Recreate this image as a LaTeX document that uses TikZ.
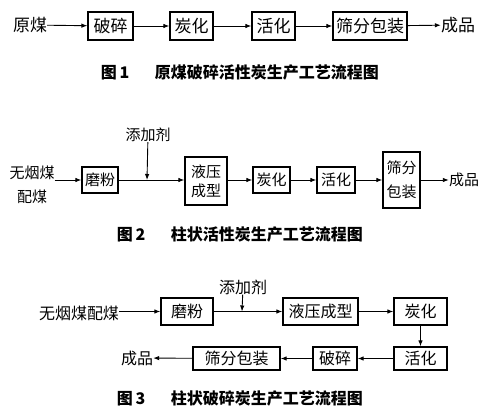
\documentclass[tikz,border=0pt]{standalone}
\usepackage{fontspec}
\usepackage{tikz}
\usetikzlibrary{arrows.meta,positioning}
\newfontfamily\cjk{Noto Sans CJK SC}

\begin{document}
\begin{tikzpicture}[x=1pt, y=-1pt,
  every node/.style={font=\cjk, inner sep=0pt, align=center},
  box/.style={draw, line width=1.3pt, minimum height=#1},
  box/.default=28pt,
  flow/.style={-{Latex[length=6pt,width=4.5pt]}, line width=0.9pt},
  caption/.style={font=\cjk\bfseries\fontsize{16}{19}\selectfont}]
  \useasboundingbox (0,0) rectangle (488,416);
  % diagram 1
  \begin{scope}[every node/.append style={font=\cjk\fontsize{17}{20}\selectfont}]
    \node (raw1) at (30,25) {原煤};
    \node[box, minimum width=45pt] (crush1) at (110.5,26) {破碎};
    \node[box, minimum width=43pt] (carb1) at (191.5,26) {炭化};
    \node[box, minimum width=43pt] (act1) at (273.5,26) {活化};
    \node[box, minimum width=74pt] (sieve1) at (370,26) {筛分包装};
    \node (prod1) at (458,25) {成品};
  \end{scope}
  \draw[flow] (raw1) -- (crush1);
  \draw[flow] (crush1) -- (carb1);
  \draw[flow] (carb1) -- (act1);
  \draw[flow] (act1) -- (sieve1);
  \draw[flow] (sieve1) -- (prod1);
  \node[caption] (cap1) at (240,72) {图\,1\hspace{1.6em}原煤破碎活性炭生产工艺流程图};
  % diagram 2
  \begin{scope}[every node/.append style={font=\cjk\fontsize{15}{24}\selectfont}]
    \node (raw2) at (32,185) {无烟煤\\配煤};
    \node[box=26pt, minimum width=36pt] (mill2) at (100,180) {磨粉};
    \node (add2) at (148,135) {添加剂};
    \node[box=48pt, minimum width=42pt, font=\cjk\fontsize{15}{19}\selectfont] (press2) at (206,181) {液压\\成型};
    \node[box=26pt, minimum width=37pt] (carb2) at (271.5,180) {炭化};
    \node[box=26pt, minimum width=38pt] (act2) at (336,180) {活化};
    \node[box=56pt, minimum width=37pt, font=\cjk\fontsize{15}{24}\selectfont] (sieve2) at (401.5,180) {筛分\\包装};
    \node (prod2) at (464,180) {成品};
  \end{scope}
  \coordinate (join2) at (147,180);
  \draw[flow] (raw2.east |- mill2) -- (mill2);
  \draw[flow] (mill2) -- (press2.west |- mill2);
  \draw[flow] (add2) -- (join2);
  \draw[flow] (press2.east |- carb2) -- (carb2);
  \draw[flow] (carb2) -- (act2);
  \draw[flow] (act2) -- (sieve2.west |- act2);
  \draw[flow] (sieve2.east |- prod2) -- (prod2);
  \node[caption] (cap2) at (240,234) {图\,2\hspace{1.6em}柱状活性炭生产工艺流程图};
  % diagram 3
  \begin{scope}[every node/.append style={font=\cjk\fontsize{16}{20}\selectfont}]
    \node (raw3) at (79,313) {无烟煤配煤};
    \node[box=27pt, minimum width=52pt] (mill3) at (187,311.5) {磨粉};
    \node (add3) at (243,287) {添加剂};
    \node[box=27pt, minimum width=75pt] (press3) at (320.5,311.5) {液压成型};
    \node[box=27pt, minimum width=53pt] (carb3) at (420.5,311.5) {炭化};
    \node[box=23pt, minimum width=53pt] (act3) at (420.5,358.5) {活化};
    \node[box=23pt, minimum width=44pt] (crush3) at (335,358.5) {破碎};
    \node[box=23pt, minimum width=87pt] (sieve3) at (236.5,358.5) {筛分包装};
    \node (prod3) at (137,358) {成品};
  \end{scope}
  \coordinate (join3) at (242,311.5);
  \draw[flow] (raw3.east |- mill3) -- (mill3);
  \draw[flow] (mill3) -- (press3);
  \draw[flow] (add3) -- (join3);
  \draw[flow] (press3) -- (carb3);
  \draw[flow] (carb3) -- (act3);
  \draw[flow] (act3) -- (crush3);
  \draw[flow] (crush3) -- (sieve3);
  \draw[flow] (sieve3) -- (prod3);
  \node[caption] (cap3) at (240,398) {图\,3\hspace{1.6em}柱状破碎炭生产工艺流程图};
\end{tikzpicture}
\end{document}
